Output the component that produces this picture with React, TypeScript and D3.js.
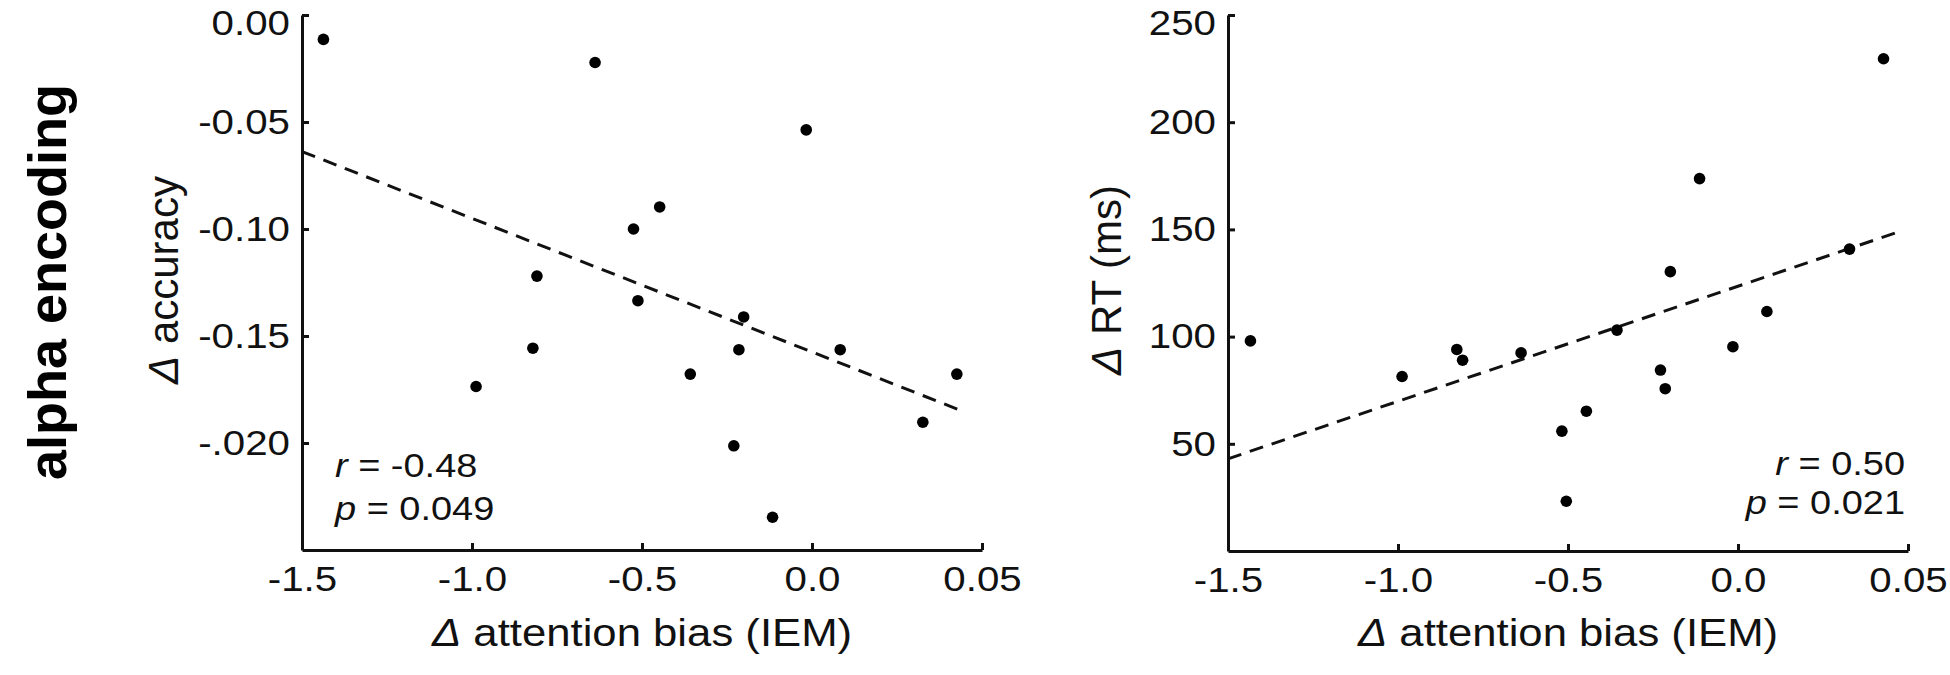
import React, { useEffect, useRef } from "react";
import * as d3 from "d3";

// x ticks are shared by both panels (last label is "0.05" in the original figure)
const xTicks = [-1.5, -1.0, -0.5, 0.0, 0.5];
const xTickLabels = ["-1.5", "-1.0", "-0.5", "0.0", "0.05"];

// left panel: accuracy
const accTicks = [0, -0.05, -0.1, -0.15, -0.2];
const accTickLabels = ["0.00", "-0.05", "-0.10", "-0.15", "-.020"];
const accBias = [-1.437, -0.638, -0.525, -0.809, -0.512, -0.821, -0.988, -0.017, -0.448, -0.201, -0.215, 0.083, -0.358, 0.426, 0.326, -0.23, -0.116];
const accDelta = [-0.0114, -0.0222, -0.1, -0.122, -0.1335, -0.1557, -0.1736, -0.0537, -0.0897, -0.1411, -0.1564, -0.1564, -0.1678, -0.1678, -0.1903, -0.2013, -0.2347];
const accFitX = [-1.5, 0.441];
const accFitY = [-0.0638, -0.185];

// right panel: RT
const rtTicks = [50, 100, 150, 200, 250];
const rtBias = [-1.434, -0.988, -0.827, -0.81, -0.638, -0.518, -0.505, -0.446, -0.356, -0.228, -0.214, -0.199, -0.113, -0.015, 0.085, 0.328, 0.428];
const rtDelta = [98, 81.4, 94, 89, 92.4, 55.9, 23.2, 65.2, 103, 84.4, 75.7, 130.3, 173.7, 95.3, 111.7, 140.8, 229.6];
const rtFitX = [-1.5, 0.475];
const rtFitY = [43, 149];

const FONT = "'Liberation Sans', Arial, Helvetica, sans-serif";
const STRETCH = "scale(1.15,1)";

const drawPanel = (svg, cfg) => {
  const { left, right, top, bottom } = cfg;

  const x = d3.scaleLinear().domain([-1.5, 0.5]).range([left, right]);
  const y = d3.scaleLinear().domain(cfg.yDomain).range([bottom, top]);

  const g = svg.append("g");

  // axes, ticks pointing inward
  const xAxis = g
    .append("g")
    .attr("transform", `translate(0, ${bottom})`)
    .call(
      d3
        .axisBottom(x)
        .tickValues(xTicks)
        .tickFormat((d, i) => xTickLabels[i])
        .tickSizeInner(-7)
        .tickSizeOuter(0)
        .tickPadding(16)
    );

  const yAxis = g
    .append("g")
    .attr("transform", `translate(${left}, 0)`)
    .call(
      d3
        .axisLeft(y)
        .tickValues(cfg.yTicks)
        .tickFormat((d, i) => cfg.yTickLabels[i])
        .tickSizeInner(-7)
        .tickSizeOuter(0)
        .tickPadding(10.5)
    );

  [xAxis, yAxis].forEach((a) => {
    a.attr("font-family", FONT).attr("font-size", 35);
    a.select(".domain").attr("stroke", "#111").attr("stroke-width", 3);
    a.selectAll(".tick line").attr("stroke", "#111").attr("stroke-width", 3);
    a.selectAll(".tick text").attr("fill", "#111").attr("transform", STRETCH);
  });
  // no tick mark on the corner
  xAxis.selectAll(".tick").filter((d) => d === -1.5).select("line").remove();
  // top label sits a little below its tick, as in the figure
  const yTop = cfg.yDomain[1];
  yAxis.selectAll(".tick").filter((d) => d === yTop).select("text").attr("dy", "0.55em");

  // regression line
  const line = d3
    .line()
    .x((d) => x(d[0]))
    .y((d) => y(d[1]));
  g.append("path")
    .datum(cfg.fitX.map((v, i) => [v, cfg.fitY[i]]))
    .attr("fill", "none")
    .attr("stroke", "#111")
    .attr("stroke-width", 3)
    .attr("stroke-dasharray", "14,9")
    .attr("d", line);

  // dots
  g.selectAll(".dot")
    .data(cfg.xs.map((v, i) => [v, cfg.ys[i]]))
    .enter()
    .append("circle")
    .attr("cx", (d) => x(d[0]))
    .attr("cy", (d) => y(d[1]))
    .attr("r", 5.8)
    .attr("fill", "#000");

  // axis titles
  const xt = g
    .append("text")
    .attr("transform", `translate(${(left + right) / 2}, 646) ${STRETCH}`)
    .attr("text-anchor", "middle")
    .attr("font-family", FONT)
    .attr("font-size", 38)
    .attr("fill", "#111");
  xt.append("tspan").attr("font-style", "italic").text("\u0394");
  xt.append("tspan").text(" attention bias (IEM)");

  const yt = g
    .append("text")
    .attr("transform", `translate(${cfg.yTitleX}, 280) rotate(-90)`)
    .attr("text-anchor", "middle")
    .attr("font-family", FONT)
    .attr("font-size", 42)
    .attr("fill", "#111");
  yt.append("tspan").attr("font-style", "italic").text("\u0394");
  yt.append("tspan").text(" " + cfg.yTitle);

  // stats
  cfg.stats.forEach((s, i) => {
    const t = g
      .append("text")
      .attr("transform", `translate(${cfg.statX}, ${cfg.statY[i]}) ${STRETCH}`)
      .attr("text-anchor", cfg.statAnchor)
      .attr("font-family", FONT)
      .attr("font-size", 33)
      .attr("fill", "#111");
    t.append("tspan").attr("font-style", "italic").text(s[0]);
    t.append("tspan").text(" = " + s[1]);
  });
};

const App = () => {
  const ref = useRef();

  useEffect(() => {
    d3.select(ref.current).selectAll("*").remove();

    const svg = d3
      .select(ref.current)
      .append("svg")
      .attr("width", 1950)
      .attr("height", 675)
      .style("position", "absolute")
      .style("left", 0)
      .style("top", 0)
      .style("background", "#fff");

    svg
      .append("text")
      .attr("transform", "translate(66, 282) rotate(-90)")
      .attr("text-anchor", "middle")
      .attr("font-family", FONT)
      .attr("font-weight", "bold")
      .attr("font-size", 54)
      .attr("fill", "#000")
      .text("alpha encoding");

    drawPanel(svg, {
      left: 302,
      right: 982,
      top: 15,
      bottom: 550,
      yDomain: [-0.25, 0],
      yTicks: accTicks,
      yTickLabels: accTickLabels,
      xs: accBias,
      ys: accDelta,
      fitX: accFitX,
      fitY: accFitY,
      yTitle: "accuracy",
      yTitleX: 178,
      stats: [["r", "-0.48"], ["p", "0.049"]],
      statX: 335,
      statY: [477, 520],
      statAnchor: "start",
    });

    drawPanel(svg, {
      left: 1228,
      right: 1908,
      top: 15,
      bottom: 551,
      yDomain: [0, 250],
      yTicks: rtTicks,
      yTickLabels: rtTicks.map(String),
      xs: rtBias,
      ys: rtDelta,
      fitX: rtFitX,
      fitY: rtFitY,
      yTitle: "RT (ms)",
      yTitleX: 1121,
      stats: [["r", "0.50"], ["p", "0.021"]],
      statX: 1905,
      statY: [475, 514],
      statAnchor: "end",
    });
  }, []);

  return <div ref={ref}></div>;
};

export default App;
